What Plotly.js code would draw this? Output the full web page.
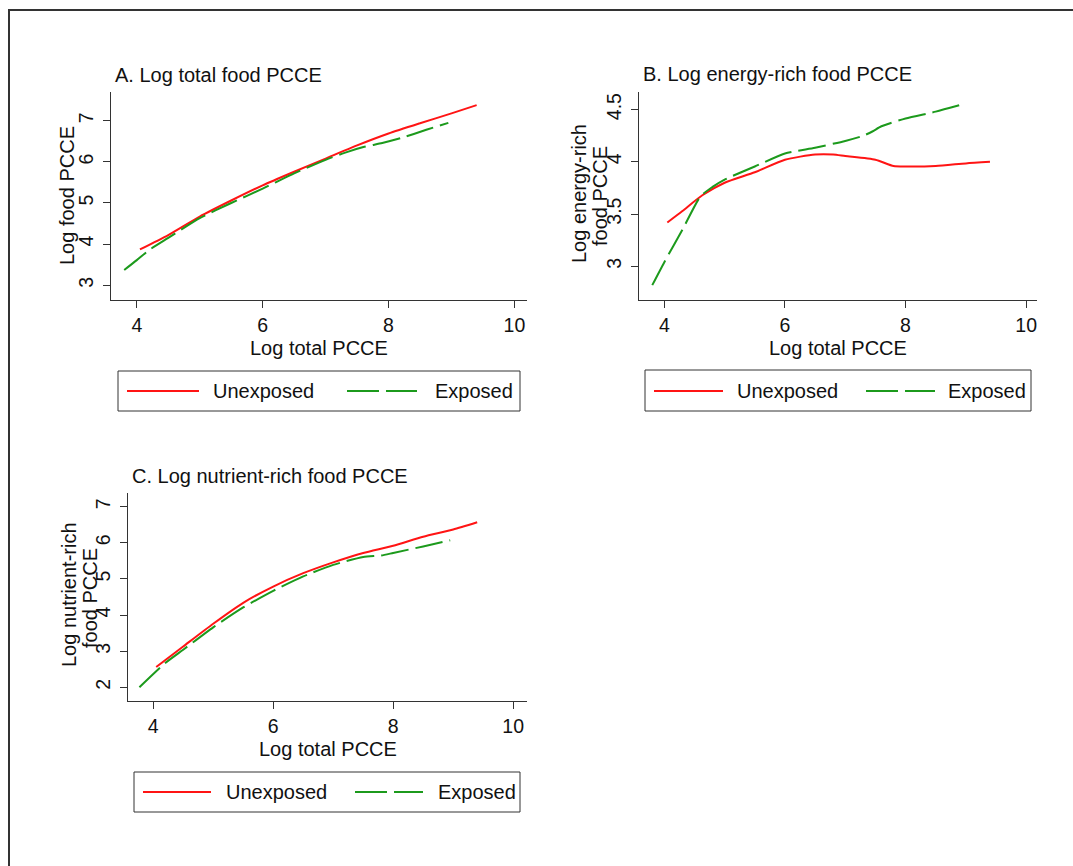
<!DOCTYPE html>
<html>
<head>
<meta charset="utf-8">
<script src="https://cdn.plot.ly/plotly-3.0.1.min.js"></script>
<style>html,body{margin:0;padding:0;background:#fff;}#chart{width:1073px;height:866px;}</style>
</head>
<body>
<div id="chart"></div>
<script>
// ---- Data ----
const seriesNames = ["Unexposed", "Exposed"];
const xTickVals = [4, 6, 8, 10];

// Panel A: Log total food PCCE
const aUnexpX = [4.05, 4.5, 5, 5.5, 6, 6.5, 7, 7.5, 8, 8.5, 9, 9.4];
const aUnexpY = [3.87, 4.22, 4.67, 5.06, 5.43, 5.76, 6.08, 6.40, 6.69, 6.94, 7.18, 7.38];
const aExpX = [3.8, 4.0, 4.2, 4.5, 5, 5.5, 6, 6.5, 7, 7.3, 7.6, 7.9, 8.2, 8.6, 8.95];
const aExpY = [3.37, 3.61, 3.86, 4.15, 4.63, 5.0, 5.35, 5.72, 6.05, 6.22, 6.36, 6.46, 6.58, 6.78, 6.95];
const aYTicks = [3, 4, 5, 6, 7];

// Panel B: Log energy-rich food PCCE
const bUnexpX = [4.05, 4.3, 4.63, 5, 5.5, 6, 6.5, 6.8, 7.0, 7.5, 7.8, 8, 8.5, 9, 9.4];
const bUnexpY = [3.42, 3.53, 3.68, 3.80, 3.90, 4.02, 4.07, 4.07, 4.055, 4.02, 3.96, 3.955, 3.96, 3.985, 4.00];
const bExpX = [3.8, 4.0, 4.3, 4.6, 4.8, 5, 5.5, 6, 6.5, 7, 7.3, 7.45, 7.6, 8, 8.5, 8.95];
const bExpY = [2.82, 3.04, 3.35, 3.67, 3.76, 3.83, 3.955, 4.08, 4.135, 4.20, 4.25, 4.29, 4.34, 4.415, 4.48, 4.55];
const bYTicks = [3, 3.5, 4, 4.5];

// Panel C: Log nutrient-rich food PCCE
const cUnexpX = [4.05, 4.5, 5, 5.5, 6, 6.5, 7, 7.5, 8, 8.5, 9, 9.4];
const cUnexpY = [2.56, 3.13, 3.76, 4.34, 4.79, 5.16, 5.46, 5.72, 5.92, 6.17, 6.37, 6.57];
const cExpX = [3.77, 4.2, 4.5, 5, 5.5, 6, 6.5, 7, 7.5, 7.8, 8, 8.5, 8.95];
const cExpY = [2.0, 2.67, 3.04, 3.66, 4.21, 4.67, 5.07, 5.39, 5.61, 5.65, 5.72, 5.90, 6.07];
const cYTicks = [2, 3, 4, 5, 6, 7];

const panelTitles = ["A. Log total food PCCE", "B. Log energy-rich food PCCE", "C. Log nutrient-rich food PCCE"];
const xTitle = "Log total PCCE";
const yTitleA = ["Log food PCCE"];
const yTitleB = ["Log energy-rich", "food PCCE"];
const yTitleC = ["Log nutrient-rich", "food PCCE"];

// ---- Styling / layout ----
const W = 1073, H = 866;
const px = v => v / W;
const py = v => 1 - v / H;
const RED = "#ff1414", GREEN = "#1c9a1c", AXC = "#333333";
const FONT = "Liberation Sans, Arial, sans-serif";
const DASH = "28px,7px";
const FS = 20;

function tr(x, y, name, color, dash, xa, ya) {
  return {type: "scatter", mode: "lines", x: x, y: y, name: name, xaxis: xa, yaxis: ya,
          line: {color: color, width: 2, dash: dash, shape: "spline", smoothing: 0.6},
          showlegend: false, hoverinfo: "x+y+name"};
}
const data = [
  tr(aUnexpX, aUnexpY, seriesNames[0], RED, "solid", "x", "y"),
  tr(aExpX, aExpY, seriesNames[1], GREEN, DASH, "x", "y"),
  tr(bUnexpX, bUnexpY, seriesNames[0], RED, "solid", "x2", "y2"),
  tr(bExpX, bExpY, seriesNames[1], GREEN, DASH, "x2", "y2"),
  tr(cUnexpX, cUnexpY, seriesNames[0], RED, "solid", "x3", "y3"),
  tr(cExpX, cExpY, seriesNames[1], GREEN, DASH, "x3", "y3")
];

function xax(dom, range, anchor) {
  return {domain: dom, range: range, anchor: anchor, tickvals: xTickVals, showline: true, linecolor: AXC,
          linewidth: 1, ticks: "outside", ticklen: 7, tickcolor: AXC, showgrid: false, zeroline: false,
          ticklabelstandoff: 1, tickfont: {size: 19.5, family: FONT, color: "#111"}};
}
function yax(dom, range, anchor, tv) {
  return {domain: dom, range: range, anchor: anchor, tickvals: tv, tickangle: -90, showline: true, linecolor: AXC,
          linewidth: 1, ticks: "outside", ticklen: 7, tickcolor: AXC, showgrid: false, zeroline: false,
          ticklabelstandoff: 2, tickfont: {size: 19.5, family: FONT, color: "#111"}};
}

const ann = [];
function txt(t, x, y, xanchor, angle) {
  ann.push({text: t, x: px(x), y: py(y), xref: "paper", yref: "paper", xanchor: xanchor || "left",
            yanchor: "middle", showarrow: false, textangle: angle || 0,
            font: {size: FS, family: FONT, color: "#111"}});
}
// panel titles
txt(panelTitles[0], 113, 75);
txt(panelTitles[1], 641, 74);
txt(panelTitles[2], 130, 476);
// x titles
txt(xTitle, 319, 348, "center");
txt(xTitle, 838, 348, "center");
txt(xTitle, 327.5, 749, "center");
// y titles
txt(yTitleA[0], 67, 196, "center", -90);
txt(yTitleB[0], 579, 194, "center", -90);
txt(yTitleB[1], 600, 196, "center", -90);
txt(yTitleC[0], 69, 595, "center", -90);
txt(yTitleC[1], 90, 598, "center", -90);

const shapes = [];
function ln(x0, y0, x1, y1, color, width, dash) {
  shapes.push({type: "line", xref: "paper", yref: "paper", x0: px(x0), y0: py(y0), x1: px(x1), y1: py(y1),
               line: {color: color, width: width, dash: dash || "solid"}});
}
function box(x0, y0, x1, y1) {
  shapes.push({type: "rect", xref: "paper", yref: "paper", x0: px(x0), y0: py(y0), x1: px(x1), y1: py(y1),
               line: {color: AXC, width: 1}, fillcolor: "rgba(0,0,0,0)"});
}
// legends
function legend(bx0, by0, bx1, by1, ly, r0, r1, t1, g0, g1, t2) {
  box(bx0, by0, bx1, by1);
  ln(r0, ly, r1, ly, RED, 2);
  txt(seriesNames[0], t1, ly);
  ln(g0, ly, g1, ly, GREEN, 2, "32px,7px");
  txt(seriesNames[1], t2, ly);
}
legend(118, 371, 520, 411, 391, 127, 199, 211, 347, 417, 433);
legend(645, 370, 1031, 411, 391, 654, 723, 735, 866, 935, 946);
legend(134, 772, 520, 812, 792, 143, 211, 224, 355, 423, 436);
// outer frame
ln(9, 10, 9, 866, "#333", 2);
ln(8, 10, 1073, 10, "#333", 2);

const layout = {
  width: W, height: H, margin: {l: 0, r: 0, t: 0, b: 0},
  paper_bgcolor: "#fff", plot_bgcolor: "#fff", showlegend: false,
  font: {family: FONT, size: FS, color: "#111"},
  xaxis: xax([px(111), px(527)], [3.59, 10.2], "y"),
  yaxis: yax([py(300), py(92)], [2.64, 7.7], "x", aYTicks),
  xaxis2: xax([px(639), px(1037)], [3.58, 10.18], "y2"),
  yaxis2: yax([py(300), py(92)], [2.678, 4.668], "x2", bYTicks),
  xaxis3: xax([px(128), px(527)], [3.58, 10.23], "y3"),
  yaxis3: yax([py(701), py(493)], [1.62, 7.38], "x3", cYTicks),
  annotations: ann, shapes: shapes
};
Plotly.newPlot("chart", data, layout, {staticPlot: true, displayModeBar: false});
</script>
</body>
</html>
